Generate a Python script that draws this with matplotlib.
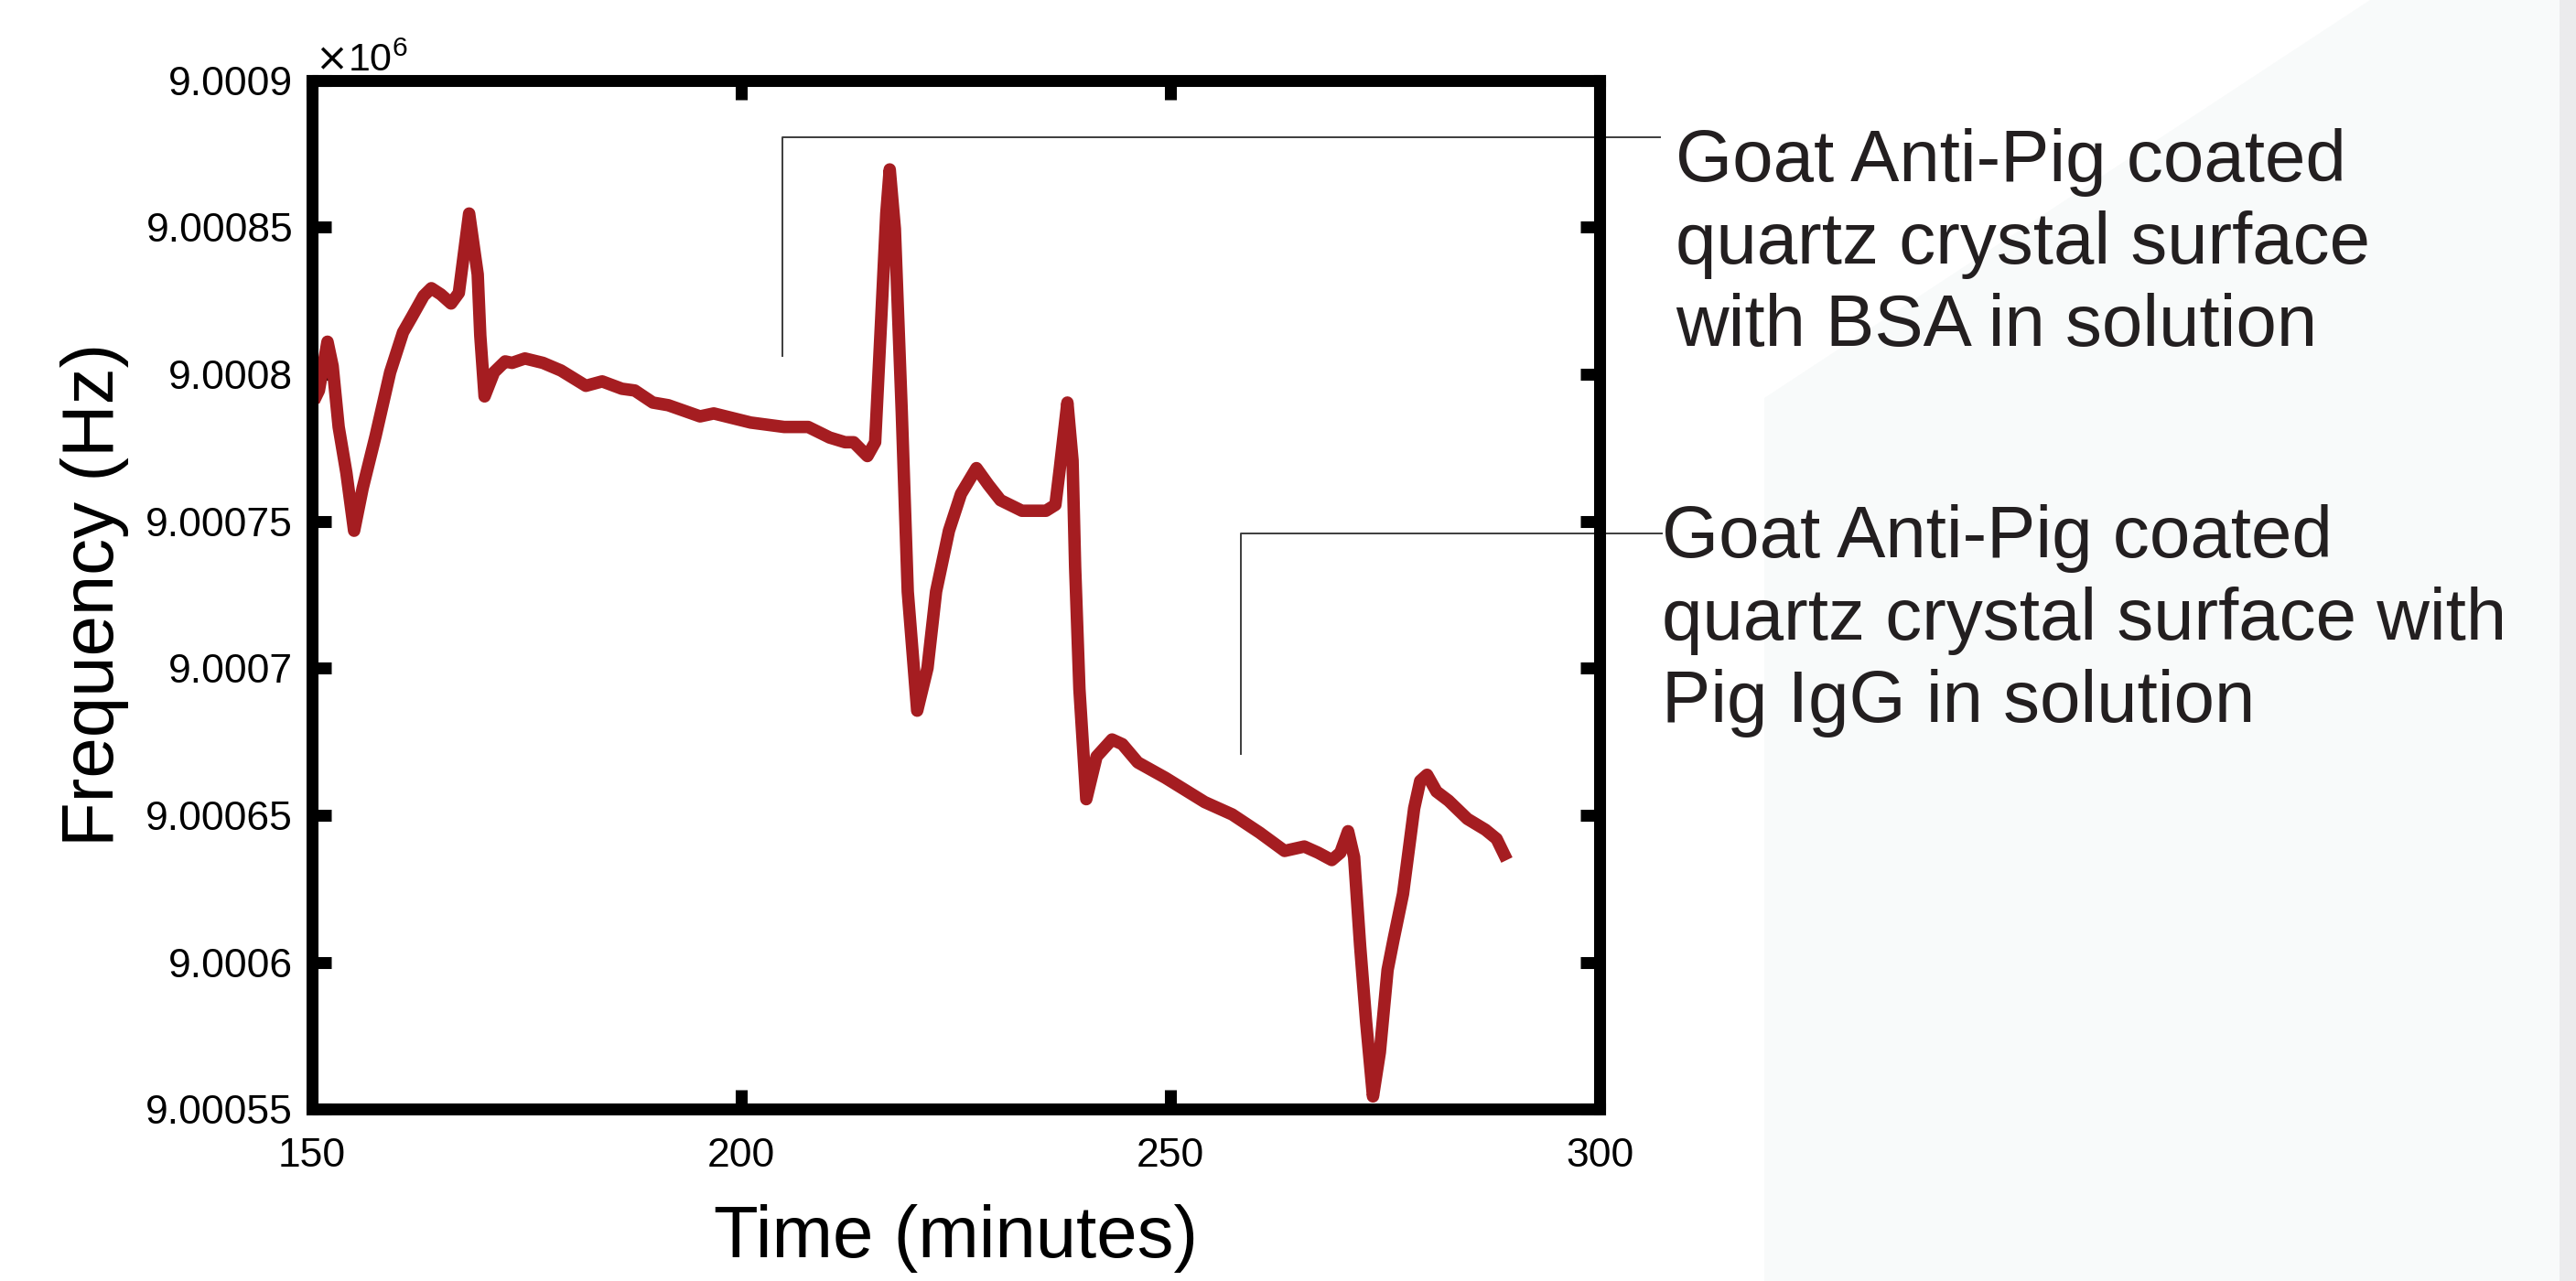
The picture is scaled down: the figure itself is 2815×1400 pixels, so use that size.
import matplotlib
matplotlib.use("Agg")
import matplotlib.pyplot as plt
from matplotlib.patches import Polygon, Rectangle
import matplotlib.ticker as mtick

plt.rcParams['font.family'] = ['Liberation Sans', 'DejaVu Sans']

# QCM trace
time_min = [150.2, 150.8, 151.8, 152.4, 153.1, 154.0, 154.9, 155.9, 157.4, 159.1,
            160.6, 161.6, 163.0, 163.9, 165.0, 166.2, 167.1, 168.3, 169.3, 169.6,
            170.1, 171.2, 172.5, 173.3, 174.8, 176.9, 179.0, 181.9, 183.8, 186.1,
            187.6, 189.7, 191.5, 195.2, 196.8, 201.1, 205.0, 207.8, 210.3, 212.1,
            213.1, 214.7, 215.6, 216.3, 216.9, 217.3, 217.9, 218.7, 219.4, 220.5,
            221.7, 222.7, 224.2, 225.6, 227.4, 228.8, 230.2, 232.7, 235.5, 236.6,
            237.1, 238.0, 238.6, 238.9, 239.4, 240.2, 241.4, 243.2, 244.4, 246.2,
            249.4, 254.0, 257.2, 260.4, 263.3, 265.6, 267.2, 268.8, 269.8, 270.7,
            271.4, 272.1, 272.8, 273.6, 274.4, 275.3, 276.0, 277.1, 278.4, 279.1,
            279.9, 281.0, 282.4, 284.6, 286.7, 288.0, 289.2]
freq_hz = [9000790.9, 9000794.5, 9000811.1, 9000802.8, 9000782.1, 9000766.5, 9000746.8, 9000761.3, 9000779.0, 9000800.7,
           9000814.3, 9000819.4, 9000826.7, 9000829.3, 9000827.2, 9000824.1, 9000827.7, 9000854.7, 9000834.0, 9000813.2,
           9000792.5, 9000800.7, 9000804.4, 9000803.9, 9000805.4, 9000803.9, 9000801.3, 9000796.1, 9000797.6, 9000795.1,
           9000794.5, 9000790.4, 9000789.5, 9000785.7, 9000786.7, 9000783.6, 9000782.1, 9000782.1, 9000778.5, 9000776.9,
           9000776.9, 9000772.2, 9000776.9, 9000818.4, 9000854.7, 9000869.7, 9000849.5, 9000787.3, 9000726.1, 9000685.6,
           9000700.1, 9000726.1, 9000746.8, 9000759.3, 9000768.1, 9000762.4, 9000757.2, 9000753.6, 9000753.6, 9000755.6,
           9000767.6, 9000790.4, 9000770.7, 9000734.4, 9000692.9, 9000655.5, 9000670.0, 9000675.8, 9000674.2, 9000668.0,
           9000662.8, 9000654.5, 9000650.3, 9000644.1, 9000637.9, 9000639.4, 9000637.3, 9000634.8, 9000637.3, 9000644.6,
           9000635.8, 9000605.7, 9000579.8, 9000554.4, 9000569.4, 9000597.4, 9000607.8, 9000623.3, 9000652.4, 9000661.7,
           9000663.8, 9000658.1, 9000655.0, 9000648.8, 9000645.1, 9000642.0, 9000634.8]

x_ticks = [150, 200, 250, 300]
y_ticks = [9000550, 9000600, 9000650, 9000700, 9000750, 9000800, 9000850, 9000900]

notes = ["Goat Anti-Pig coated\nquartz crystal surface\nwith BSA in solution",
         "Goat Anti-Pig coated\nquartz crystal surface with\nPig IgG in solution"]
# leader lines: (x at corner, y of horizontal, y of vertical end, x at text)
leaders = [(204.8, 9000880.6, 9000806.3, 307.0),
           (258.2, 9000745.8, 9000670.9, 307.2)]

W, H = 2815, 1400
fig = plt.figure(figsize=(W / 100, H / 100), dpi=100)

# light grey screenshot background on the right
fig.patches.append(Polygon([(1928 / W, 0), (1928 / W, 1 - 435 / H), (2590 / W, 1),
                            (1, 1), (1, 0)], closed=True, transform=fig.transFigure,
                           facecolor='#f8fafa', edgecolor='none', zorder=0))
fig.patches.append(Rectangle((2797 / W, 0), 18 / W, 1, transform=fig.transFigure,
                             facecolor='#ebebed', edgecolor='none', zorder=0))

ax = fig.add_axes([341 / W, 1 - 1212.4 / H, 1407 / W, 1124.6 / H])
ax.plot(time_min, freq_hz, color='#a51d21', linewidth=9.8, solid_capstyle='butt')

ax.set_xlim(150, 300)
ax.set_ylim(9000550, 9000900)
ax.set_xticks(x_ticks)
ax.set_yticks(y_ticks)
ax.yaxis.set_major_formatter(mtick.FuncFormatter(lambda v, p: f"{v / 1e6:.6f}".rstrip('0')))

for s in ax.spines.values():
    s.set_linewidth(9.4)
ax.tick_params(direction='in', length=14.8, width=9.4, top=True, right=True,
               labelsize=32)
ax.tick_params(axis='x', pad=22)
ax.tick_params(axis='y', pad=15)

ax.set_xlabel("Time (minutes)", fontsize=57.5)
ax.set_ylabel("Frequency (Hz)", fontsize=57.5)
ax.xaxis.set_label_coords(0.5, -0.092)
ax.yaxis.set_label_coords(-0.142, 0.5)

fig.text(344 / W, 1 - 78 / H, r'$\times\mathregular{10^{6}}$', fontsize=31,
         ha='left', va='baseline')

for (xc, yh, yv, xt) in leaders:
    ax.plot([xt, xc, xc], [yh, yh, yv], color='#3c3c3c', linewidth=1.4,
            clip_on=False, zorder=2)

fig.text(1831 / W, 1 - 140 / H, notes[0], fontsize=57.5, color='#231f20',
         ha='left', va='top', linespacing=1.26)
fig.text(1816 / W, 1 - 551 / H, notes[1], fontsize=57.5, color='#231f20',
         ha='left', va='top', linespacing=1.26)

fig.savefig("out.png", dpi=100)
